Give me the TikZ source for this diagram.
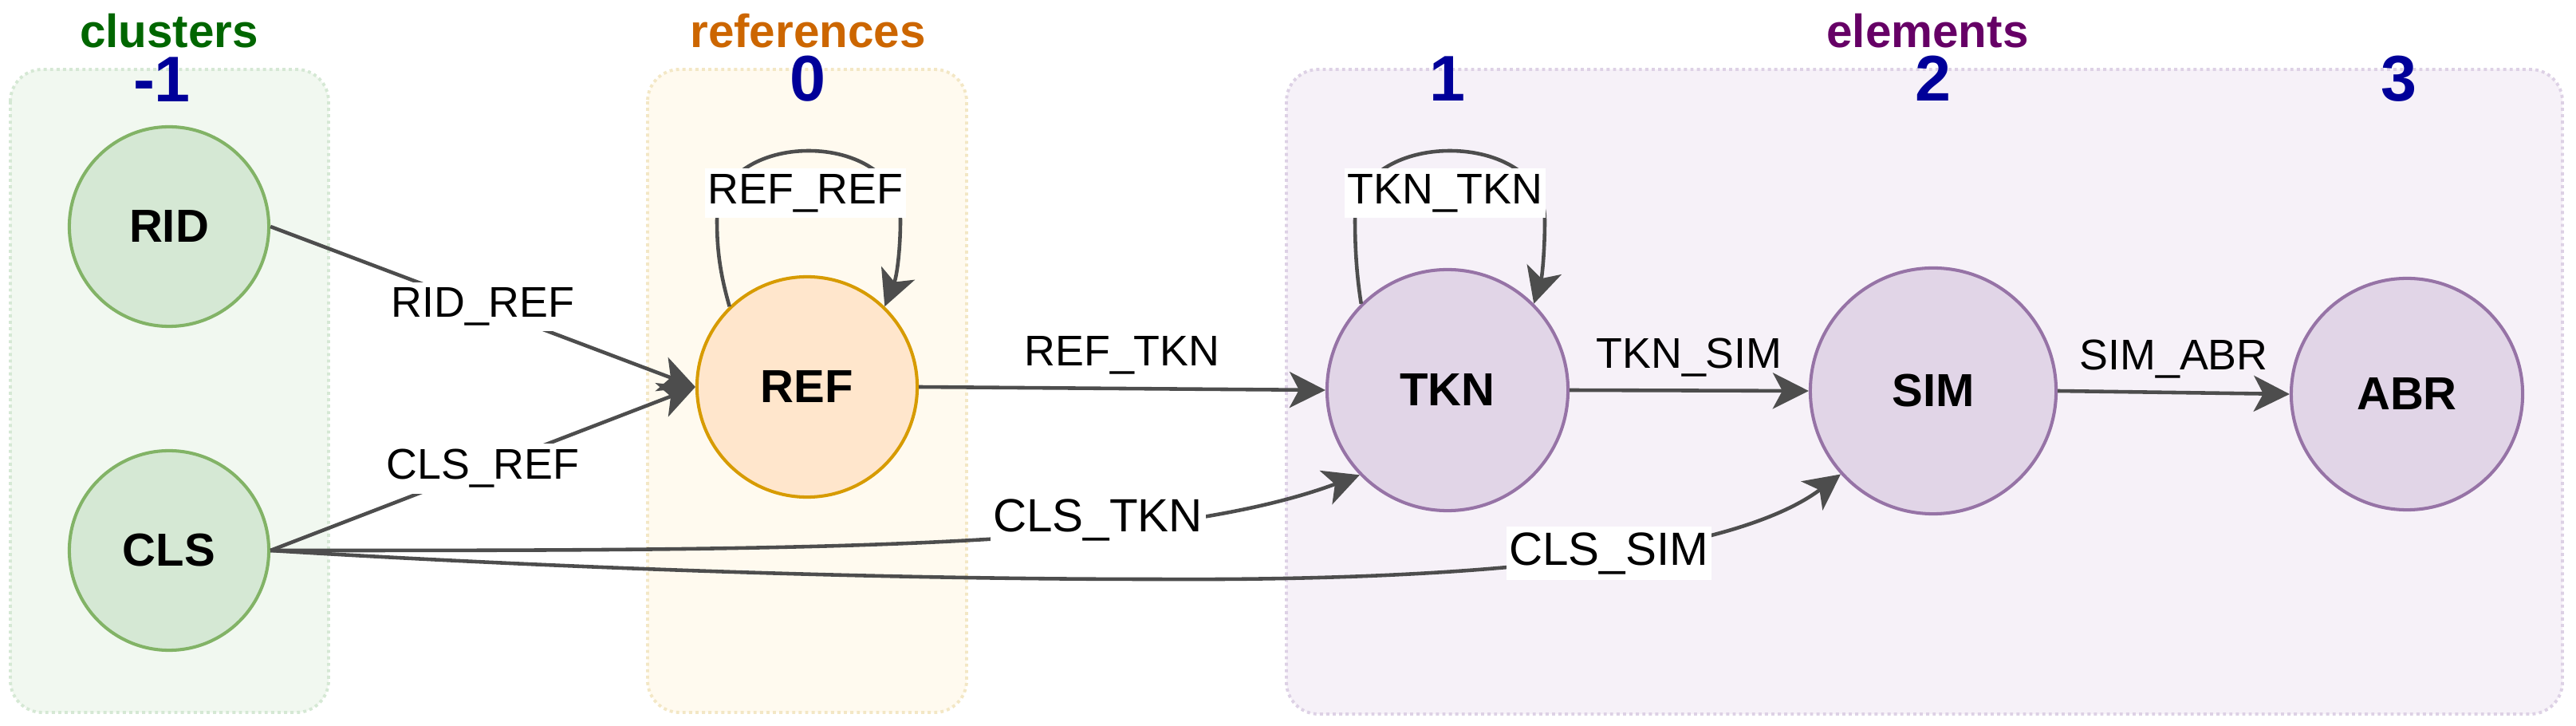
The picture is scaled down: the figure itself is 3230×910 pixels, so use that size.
\documentclass[tikz,border=0pt]{standalone}
\usepackage{fontspec}
\setmainfont{Liberation Sans}
\usetikzlibrary{arrows.meta}

\definecolor{clsfill}{HTML}{D5E8D4}
\definecolor{clsline}{HTML}{82B366}
\definecolor{reffill}{HTML}{FFE6CC}
\definecolor{refline}{HTML}{D79B00}
\definecolor{elfill}{HTML}{E1D5E7}
\definecolor{elline}{HTML}{9673A6}
\definecolor{clsbox}{HTML}{F1F8F0}
\definecolor{refbox}{HTML}{FFFAEF}
\definecolor{elbox}{HTML}{F6F1F8}
\definecolor{clsdot}{HTML}{D5E8D4}
\definecolor{refdot}{HTML}{F3E7C5}
\definecolor{eldot}{HTML}{DDD1E5}
\definecolor{edgegray}{HTML}{4D4D4D}
\definecolor{lvlblue}{HTML}{000099}
\definecolor{hdgreen}{HTML}{006600}
\definecolor{hdorange}{HTML}{CC6600}
\definecolor{hdpurple}{HTML}{660066}

\begin{document}
\begin{tikzpicture}[
		x=0.01cm, y=-0.01cm,
		group/.style = {line width=1.1pt, dash pattern=on 1.1pt off 1.2pt, rounded corners=0.4cm},
		main/.style = {draw, circle, line width=1.15pt, inner sep=0pt, font=\fontsize{16.5}{20}\selectfont\bfseries},
		cls/.style = {main, fill=clsfill, draw=clsline, minimum size=2.5cm},
		ref/.style = {main, fill=reffill, draw=refline, minimum size=2.76cm},
		elem/.style = {main, fill=elfill, draw=elline},
		hdr/.style = {anchor=base, inner sep=0pt, font=\fontsize{16.6}{20}\selectfont\bfseries},
		lvl/.style = {anchor=base, inner sep=0pt, text=lvlblue, font=\fontsize{23}{26}\selectfont\bfseries},
		edge/.style = {draw=edgegray, line width=1.3pt, -{Stealth[length=12.8pt, width=12.8pt, inset=3.4pt]}},
		lbl/.style = {fill=white, inner xsep=1pt, inner ysep=2pt, font=\fontsize{15.3}{18}\selectfont},
		biglbl/.style = {lbl, font=\fontsize{16.6}{20}\selectfont},
		toplbl/.style = {anchor=base, yshift=8pt, inner sep=0pt, font=\fontsize{15.3}{18}\selectfont}
	]
	\useasboundingbox (0,0) rectangle (3230,910);

	% Groups.
	\draw[group, fill=clsbox, draw=clsdot] (13,87) rectangle (412,893);
	\draw[group, fill=refbox, draw=refdot] (812,87) rectangle (1212,893);
	\draw[group, fill=elbox, draw=eldot] (1613,87) rectangle (3213,895);

	% Headers and levels.
	\node[hdr, text=hdgreen] (hdcls) at (212,60) {clusters};
	\node[hdr, text=hdorange] (hdref) at (1013,60) {references};
	\node[hdr, text=hdpurple] (hdelem) at (2417,60) {elements};
	\node[lvl] (lvlm1) at (203,128) {-1};
	\node[lvl] (lvl0) at (1013,127) {0};
	\node[lvl] (lvl1) at (1815,127) {1};
	\node[lvl] (lvl2) at (2424,127) {2};
	\node[lvl] (lvl3) at (3008,127) {3};

	% Nodes.
	\node[cls] (RID) at (212,284) {RID};
	\node[cls] (CLS) at (212,690) {CLS};
	\node[ref] (REF) at (1012,485) {REF};
	\node[elem, minimum size=3.02cm] (TKN) at (1815,489) {TKN};
	\node[elem, minimum size=3.08cm] (SIM) at (2424,490) {SIM};
	\node[elem, minimum size=2.9cm] (ABR) at (3018,494) {ABR};

	% Edges.
	\draw[edge] (RID.east) -- node[lbl] {RID\_REF} (REF.west);
	\draw[edge] (CLS.east) -- node[lbl] {CLS\_REF} (REF.west);
	\draw[edge] (REF.east) -- node[toplbl] {REF\_TKN} (TKN.west);
	\draw[edge] (TKN.east) -- node[toplbl] {TKN\_SIM} (SIM.west);
	\draw[edge] (SIM.east) -- node[toplbl] {SIM\_ABR} (ABR.west);
	\draw[edge] (REF.134) .. controls (902,340) and (899,310) .. (899,276)
		.. controls (899,160) and (1129,160) .. (1129,276)
		.. controls (1129,310) and (1125,345) .. (REF.46);
	\node[lbl] (lREFREF) at (1010,242) {REF\_REF};
	\draw[edge] (TKN.135) .. controls (1701,345) and (1699,310) .. (1699,276)
		.. controls (1699,160) and (1937,160) .. (1937,276)
		.. controls (1937,310) and (1934,345) .. (TKN.45);
	\node[lbl] (lTKNTKN) at (1812,242) {TKN\_TKN};
	\draw[edge] (CLS.east) .. controls (1000,690) and (1450,690) .. (TKN.224)
		node[biglbl, pos=.66, yshift=3pt] {CLS\_TKN};
	\draw[edge] (CLS.east) .. controls (700,712) and (1100,726) .. (1450,726)
		.. controls (1800,728) and (2160,705) .. (SIM.222)
		node[biglbl, pos=.57] {CLS\_SIM};
\end{tikzpicture}
\end{document}
